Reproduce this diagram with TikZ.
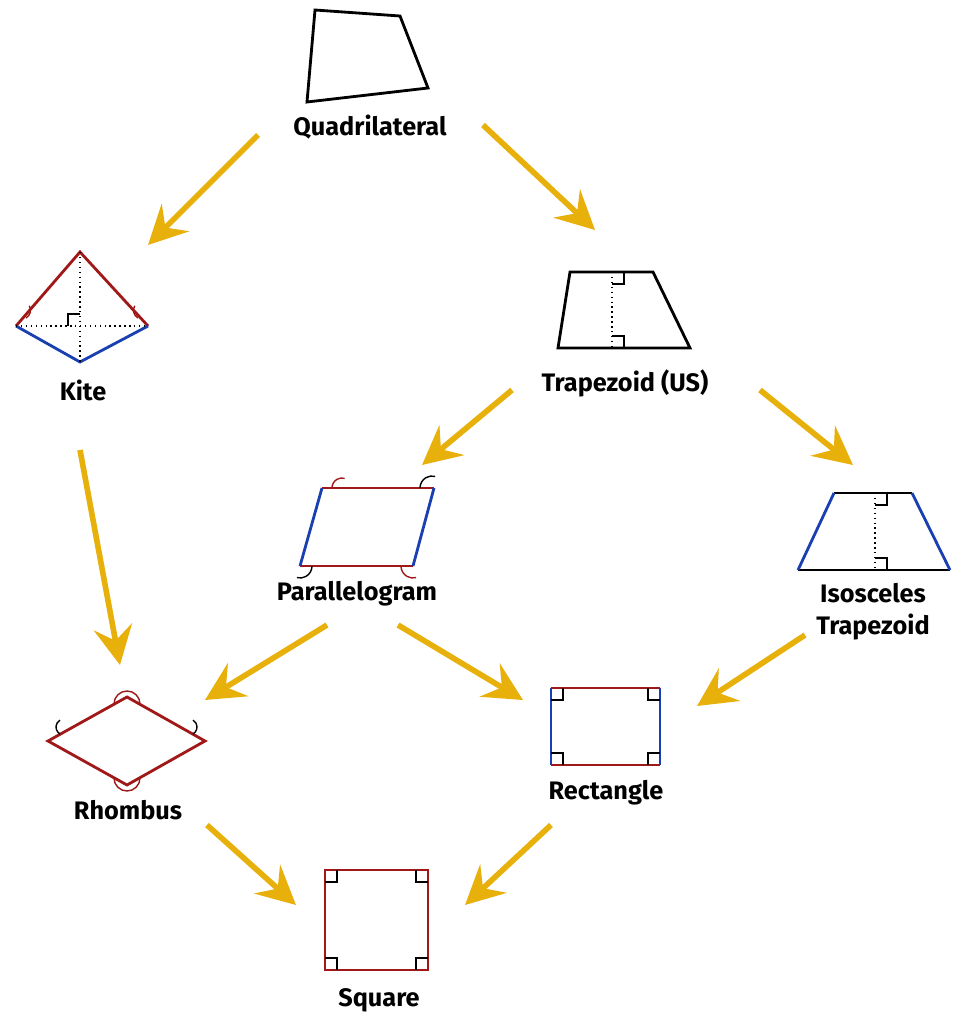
\documentclass[tikz,border=0pt]{standalone}
\usepackage{fontspec}
\setmainfont{Fira Sans}
\usetikzlibrary{arrows.meta}
\definecolor{gold}{HTML}{E8B00A}
\definecolor{dred}{HTML}{A01818}
\definecolor{dblue}{HTML}{1A3FB0}
\tikzset{
  arr/.style={line width=3.2pt,gold,-{Stealth[length=22pt,width=22pt,inset=8pt]}},
  lbl/.style={font=\bfseries\Large,align=center},
  edge/.style={line width=1.6pt},
  dot/.style={thick,dotted}
}
\begin{document}
\begin{tikzpicture}[x=0.02cm,y=-0.02cm]
      \useasboundingbox (0,0) rectangle (963,1024);
      % quadrilateral
      \draw[edge] (315,10) -- (400,16) -- (428,88) -- (307,102) -- cycle;
      \node[lbl] (quad) at (370,127) {Quadrilateral};
      % kite
      \draw[edge,dred] (16,326) -- (80,252) -- (148,326);
      \draw[edge,dblue] (16,326) -- (80,362) -- (148,326);
      \draw[dot] (80,252) -- (80,362) (16,326) -- (148,326);
      \draw[thick] (68,326) -- (68,314) -- (80,314);
      \draw[thick,dred] (26,318) arc[start angle=60,end angle=-30,radius=9];
      \draw[thick,dred] (138,318) arc[start angle=120,end angle=210,radius=9];
      \node[lbl] (kite) at (83,390) {Kite};
      % trapezoid
      \draw[edge] (570,272) -- (653,272) -- (690,348) -- (558,348) -- cycle;
      \draw[dot] (612,272) -- (612,348);
      \draw[thick] (612,284) -- (624,284) -- (624,272);
      \draw[thick] (612,336) -- (624,336) -- (624,348);
      \node[lbl] (trap) at (625,383) {Trapezoid (US)};
      % parallelogram
      \draw[edge,dred] (322,488) -- (434,488) (413,566) -- (300,566);
      \draw[edge,dblue] (434,488) -- (413,566) (300,566) -- (322,488);
      \draw[thick,dred] (332,488) arc[start angle=180,end angle=285,radius=10];
      \draw[thick] (420,488) arc[start angle=180,end angle=285,radius=12];
      \draw[thick] (312,566) arc[start angle=0,end angle=105,radius=12];
      \draw[thick,dred] (401,566) arc[start angle=180,end angle=75,radius=12];
      \node[lbl] (para) at (357,594) {Parallelogram};
      % isosceles trapezoid
      \draw[edge] (834,493) -- (912,493) (950,570) -- (798,570);
      \draw[edge,dblue] (912,493) -- (950,570) (798,570) -- (834,493);
      \draw[dot] (875,493) -- (875,570);
      \draw[thick] (875,505) -- (887,505) -- (887,493);
      \draw[thick] (875,558) -- (887,558) -- (887,570);
      \node[lbl] (iso) at (873,612) {Isosceles\\Trapezoid};
      % rhombus
      \draw[edge,dred] (127,697) -- (205,741) -- (127,785) -- (48,741) -- cycle;
      \draw[thick,dred] (114,704) arc[start angle=180,end angle=360,radius=13];
      \draw[thick,dred] (114,778) arc[start angle=180,end angle=0,radius=13];
      \draw[thick] (60,734) arc[start angle=120,end angle=240,radius=8];
      \draw[thick] (193,734) arc[start angle=60,end angle=-60,radius=8];
      \node[lbl] (rhom) at (128,810) {Rhombus};
      % rectangle
      \draw[edge,dred] (551,688) -- (660,688) (660,765) -- (551,765);
      \draw[edge,dblue] (660,688) -- (660,765) (551,765) -- (551,688);
      \draw[thick] (551,700) -- (563,700) -- (563,688) (648,688) -- (648,700) -- (660,700)
        (551,753) -- (563,753) -- (563,765) (648,765) -- (648,753) -- (660,753);
      \node[lbl] (rect) at (606,793) {Rectangle};
      % square
      \draw[edge,dred] (325,870) rectangle (428,970);
      \draw[thick] (325,882) -- (337,882) -- (337,870) (416,870) -- (416,882) -- (428,882)
        (325,958) -- (337,958) -- (337,970) (416,970) -- (416,958) -- (428,958);
      \node[lbl] (sq) at (379,1000) {Square};
      % arrows
      \coordinate (a1) at (258,135); \coordinate (b1) at (148,245);
      \coordinate (a2) at (483,125); \coordinate (b2) at (595,230);
      \coordinate (a3) at (80,450);  \coordinate (b3) at (120,665);
      \coordinate (a4) at (512,390); \coordinate (b4) at (422,465);
      \coordinate (a5) at (760,390); \coordinate (b5) at (853,465);
      \coordinate (a6) at (327,625); \coordinate (b6) at (205,700);
      \coordinate (a7) at (398,625); \coordinate (b7) at (523,700);
      \coordinate (a8) at (805,635); \coordinate (b8) at (697,706);
      \coordinate (a9) at (207,825); \coordinate (b9) at (296,905);
      \coordinate (a10) at (551,825); \coordinate (b10) at (465,905);
      \foreach \i in {1,...,10}
        \draw[arr] (a\i) -- (b\i);
    \end{tikzpicture}
\end{document}
